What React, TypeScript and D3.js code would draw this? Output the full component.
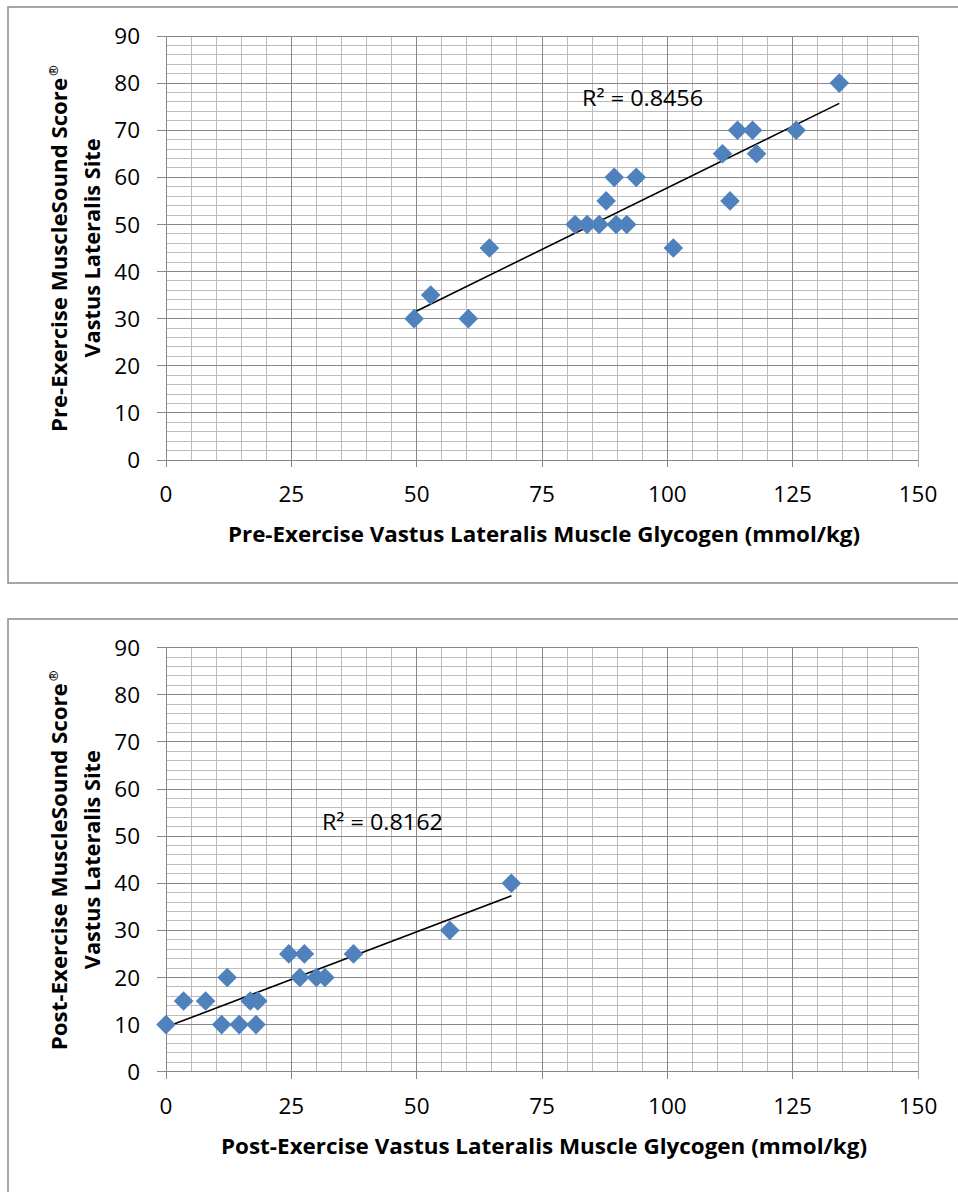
import React from "react";
import * as d3 from "d3";

// ---- data ----
const preGlycogen = [49.5, 52.8, 60.3, 64.5, 81.6, 84.0, 86.4, 87.8, 89.4, 89.8, 91.9, 93.8, 101.2, 111.0, 112.5, 114.0, 117.0, 117.8, 125.7, 134.3];
const preScore = [30, 35, 30, 45, 50, 50, 50, 55, 60, 50, 50, 60, 45, 65, 55, 70, 70, 65, 70, 80];

const postGlycogen = [0, 3.5, 7.9, 11.1, 12.2, 14.6, 16.8, 17.95, 18.3, 24.5, 26.7, 27.6, 30.0, 31.7, 37.4, 56.6, 68.9];
const postScore = [10, 15, 15, 10, 20, 10, 15, 10, 15, 25, 20, 25, 20, 20, 25, 30, 40];

const xTicks = [0, 25, 50, 75, 100, 125, 150];
const yTicks = [0, 10, 20, 30, 40, 50, 60, 70, 80, 90];
const xMinor = d3.range(0, 151, 5);
const yMinor = d3.range(0, 91, 2);

const preR2Label = "R\u00B2 = 0.8456";
const postR2Label = "R\u00B2 = 0.8162";

const preXTitle = "Pre-Exercise Vastus Lateralis Muscle Glycogen (mmol/kg)";
const postXTitle = "Post-Exercise Vastus Lateralis Muscle Glycogen (mmol/kg)";
const preYTitle1 = "Pre-Exercise MuscleSound Score";
const postYTitle1 = "Post-Exercise MuscleSound Score";
const yTitle2 = "Vastus Lateralis Site";

// ---- style ----
const FONT = "'Open Sans', 'Noto Sans', sans-serif";
const MAJOR = "#878787";
const MINOR = "#bcbcbc";
const BLUE = "#4F81BD";

function linearFit(xs: number[], ys: number[]) {
  const mx = d3.mean(xs) as number;
  const my = d3.mean(ys) as number;
  let sxy = 0, sxx = 0;
  xs.forEach((x, i) => {
    sxy += (x - mx) * (ys[i] - my);
    sxx += (x - mx) * (x - mx);
  });
  const slope = sxy / sxx;
  const intercept = my - slope * mx;
  return (x: number) => intercept + slope * x;
}

type ChartProps = {
  top: number;
  xs: number[];
  ys: number[];
  r2: string;
  r2At: [number, number];
  r2Len: number;
  xTitle: string;
  xTitleLen: number;
  yTitle1: string;
  yTitle1Len: number;
  yTitle1Shift: number;
};

function Chart(p: ChartProps) {
  const left = 166, right = 918;
  const h = 424;
  const bottom = p.top + h;
  const x = d3.scaleLinear().domain([0, 150]).range([left, right]);
  const y = d3.scaleLinear().domain([0, 90]).range([bottom, p.top]);
  const f = linearFit(p.xs, p.ys);
  const [x0, x1] = d3.extent(p.xs) as [number, number];
  const line = d3.line<number>().x((d) => x(d)).y((d) => y(f(d)));
  const diamond = (r: number) => `M0,${-r}L${r},0L0,${r}L${-r},0Z`;
  const midY = (p.top + bottom) / 2;

  return (
    <g>
      {/* minor grid */}
      <g stroke={MINOR} strokeWidth={1} shapeRendering="crispEdges">
        {xMinor.filter((v) => v % 25 !== 0).map((v) => (
          <line key={"xm" + v} x1={x(v)} x2={x(v)} y1={p.top} y2={bottom} />
        ))}
        {yMinor.filter((v) => v % 10 !== 0).map((v) => (
          <line key={"ym" + v} x1={left} x2={right} y1={y(v)} y2={y(v)} />
        ))}
      </g>
      {/* major grid */}
      <g stroke={MAJOR} strokeWidth={1} shapeRendering="crispEdges">
        {xTicks.map((v) => (
          <line key={"xM" + v} x1={x(v)} x2={x(v)} y1={p.top} y2={bottom + 7} stroke={v === 150 ? "#a8a8a8" : MAJOR} />
        ))}
        {yTicks.map((v) => (
          <line key={"yM" + v} x1={left - 9} x2={right} y1={y(v)} y2={y(v)} />
        ))}
      </g>
      {/* axis labels */}
      <g fontFamily={FONT} fontSize={22.5} fill="#000">
        {yTicks.map((v) => (
          <text key={"yl" + v} x={140} y={y(v)} dy="0.36em" textAnchor="end">{v}</text>
        ))}
        {xTicks.map((v) => (
          <text key={"xl" + v} x={x(v)} y={bottom + 42} textAnchor="middle">{v}</text>
        ))}
      </g>
      {/* trendline */}
      <path d={line([x0, x1]) || ""} fill="none" stroke="#000" strokeWidth={1.6} />
      {/* points */}
      <g fill={BLUE}>
        {p.xs.map((v, i) => (
          <path key={"pt" + i} d={diamond(9.8)} transform={`translate(${x(v)},${y(p.ys[i])})`} />
        ))}
      </g>
      {/* R² */}
      <text x={x(p.r2At[0])} y={y(p.r2At[1])} fontFamily={FONT} fontSize={22} textLength={p.r2Len} lengthAdjust="spacingAndGlyphs">{p.r2}</text>
      {/* x title */}
      <text x={544} y={bottom + 82} textAnchor="middle" fontFamily={FONT} fontWeight="bold" fontSize={21.5} textLength={p.xTitleLen} lengthAdjust="spacingAndGlyphs">{p.xTitle}</text>
      {/* y title */}
      <g fontFamily={FONT} fontWeight="bold" fontSize={21.5}>
        <text transform={`translate(67,${midY + p.yTitle1Shift}) rotate(-90)`} textAnchor="middle" textLength={p.yTitle1Len} lengthAdjust="spacingAndGlyphs">{p.yTitle1}</text>
        <text transform={`translate(58,${midY + p.yTitle1Shift - p.yTitle1Len / 2 - 2}) rotate(-90)`} fontSize={13} fontWeight="bold">{"\u00AE"}</text>
        <text transform={`translate(99.5,${midY}) rotate(-90)`} textAnchor="middle" textLength={219} lengthAdjust="spacingAndGlyphs">{yTitle2}</text>
      </g>
    </g>
  );
}

export default function App() {
  return (
    <div style={{ position: "absolute", left: 0, top: 0 }}>
      <svg width={958} height={1192} style={{ display: "block", background: "#fff" }}>
        <rect x={0} y={0} width={958} height={1192} fill="#fff" />
        {/* chart frames */}
        <rect x={8} y={7} width={1000} height={576} fill="none" stroke="#8a8a8a" strokeWidth={1.5} />
        <rect x={8} y={619} width={1000} height={700} fill="none" stroke="#8a8a8a" strokeWidth={1.5} />
        <Chart
          top={36}
          xs={preGlycogen}
          ys={preScore}
          r2={preR2Label}
          r2At={[83.0, 75.1]}
          r2Len={121}
          xTitle={preXTitle}
          xTitleLen={632}
          yTitle1={preYTitle1}
          yTitle1Len={354}
          yTitle1Shift={7}
        />
        <Chart
          top={647.7}
          xs={postGlycogen}
          ys={postScore}
          r2={postR2Label}
          r2At={[31.1, 51.3]}
          r2Len={121}
          xTitle={postXTitle}
          xTitleLen={646}
          yTitle1={postYTitle1}
          yTitle1Len={367}
          yTitle1Shift={7}
        />
      </svg>
    </div>
  );
}
